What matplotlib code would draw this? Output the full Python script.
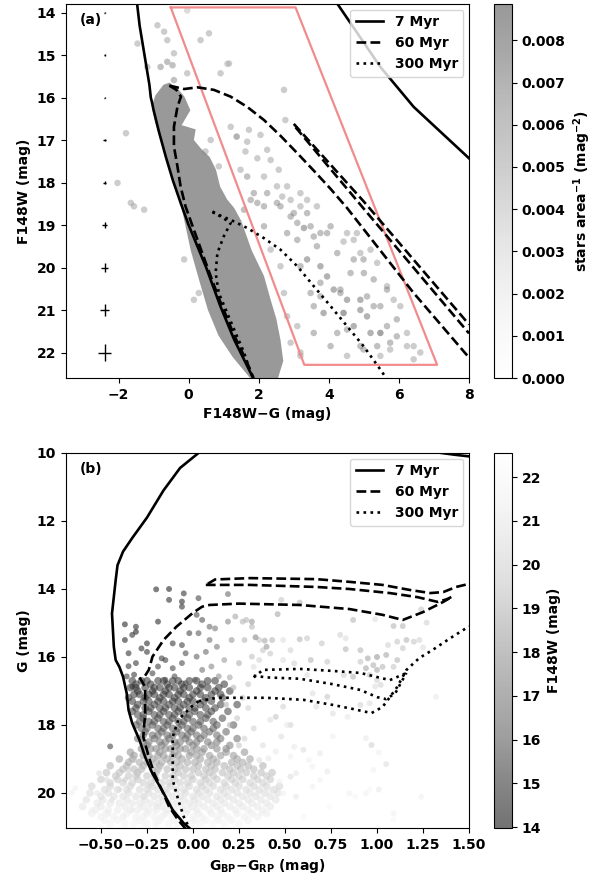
import numpy as np
import matplotlib.pyplot as plt
from matplotlib.lines import Line2D

plt.rcParams['font.family'] = 'DejaVu Sans'
plt.rcParams['font.weight'] = 'bold'
plt.rcParams['axes.labelweight'] = 'bold'
plt.rcParams['font.size'] = 10

# ---------------- panel (a) data ----------------
# isochrones in F148W-G vs F148W
iso7_a_x = [-1.47, -1.4, -1.3, -1.2, -1.12, -1.08, -1.05, -1.0, -0.85, -0.65, -0.45, -0.22, 0.0, 0.3, 0.5, 0.9, 1.3, 1.6, 1.84]
iso7_a_y = [13.8, 14.3, 14.8, 15.3, 15.7, 16.0, 16.1, 16.3, 16.8, 17.4, 17.95, 18.5, 19.0, 19.6, 20.0, 20.9, 21.7, 22.2, 22.6]
iso7b_a_x = [4.24, 5.47, 6.42, 8.0]
iso7b_a_y = [13.79, 15.28, 16.22, 17.43]

iso60_ms_a_x = [-0.55, -0.35, -0.22, -0.32, -0.42, -0.42, -0.32, -0.23, -0.09, 0.1, 0.45, 0.85, 1.3, 1.65, 1.85]
iso60_ms_a_y = [15.72, 15.82, 15.98, 16.22, 16.69, 17.15, 17.62, 18.09, 18.56, 19.0, 19.8, 20.7, 21.6, 22.2, 22.6]
iso60_gb_a_x = [-0.55, -0.13, 0.25, 0.72, 1.2, 1.67, 2.15, 2.62, 3.1, 3.57, 4.05, 4.52, 5.47, 6.42, 7.2, 8.0]
iso60_gb_a_y = [15.72, 15.8, 15.76, 15.82, 15.98, 16.22, 16.53, 16.9, 17.31, 17.72, 18.15, 18.6, 19.6, 20.6, 21.35, 22.12]
iso60_p1_a_x = [3.0, 5.0, 8.0]
iso60_p1_a_y = [16.62, 18.45, 21.34]
iso60_p2_a_x = [3.05, 5.0, 8.0]
iso60_p2_a_y = [16.7, 18.62, 21.55]

iso300_ms_a_x = [0.68, 1.2, 1.0, 0.82, 0.77, 0.86, 1.1, 1.34, 1.58, 1.77, 1.85]
iso300_ms_a_y = [18.68, 18.95, 19.27, 19.66, 20.13, 20.6, 21.07, 21.54, 22.0, 22.47, 22.62]
iso300_gb_a_x = [0.68, 1.2, 1.67, 2.15, 2.62, 3.1, 3.57, 4.05, 4.52, 4.99, 5.47, 5.65]
iso300_gb_a_y = [18.7, 18.88, 19.07, 19.31, 19.58, 19.97, 20.44, 20.91, 21.38, 21.85, 22.4, 22.62]

# selection box
box_x = [-0.51, 3.05, 7.09, 3.3, -0.51]
box_y = [13.88, 13.88, 22.29, 22.29, 13.88]

# typical photometric errors
err_y = [14, 15, 16, 17, 18, 19, 20, 21, 22]
err_col = [0.01, 0.015, 0.02, 0.03, 0.04, 0.07, 0.1, 0.14, 0.19]
err_mag = [0.01, 0.015, 0.02, 0.03, 0.04, 0.07, 0.1, 0.14, 0.2]

# saturated dense part of the main sequence (outline)
band_x = [-0.72, -0.95, -1.05, -0.95, -0.72, -0.56, -0.37, -0.2, 0.06, 0.3, 0.55, 0.85, 1.25, 1.6, 1.75,
          2.55, 2.7, 2.62, 2.5, 2.34, 2.15, 1.8, 1.5, 1.3, 1.1, 0.9, 0.78, 0.6, 0.35, 0.15, 0.2, -0.2, 0.05, -0.12, -0.3, -0.55]
band_y = [15.7, 15.95, 16.2, 16.6, 17.15, 17.62, 18.09, 18.6, 19.6, 20.3, 21.0, 21.6, 22.1, 22.45, 22.6,
          22.6, 22.2, 21.7, 21.2, 20.76, 20.2, 19.6, 18.9, 18.6, 18.4, 18.1, 17.7, 17.4, 17.2, 17.0, 16.75, 16.65, 16.3, 15.98, 15.8, 15.65]

# sparse stars: colour, magnitude, local density
a_x = [-0.04, -0.89, -0.7, -0.61, -1.46, 0.34, 0.58, -0.42, -0.61, -0.8, -1.18, -0.04, -0.42, -0.46, 1.15, 0.91, 1.1,
       2.72, 2.76, 2.05, 1.67, 1.37, 1.72, 1.2, 0.63, 0.48, 0.86, 1.62, 1.96, 2.24, 2.34, 2.57, 1.48, 1.67, 2.15,
       1.86, 2.24, 2.52, 2.81, 2.91, 2.52, 2.15, 1.77, 3.19, 3.19, 3.38, 3.66, 3.0, 2.67, 1.58, -1.65, -1.27, -1.79,
       -2.03, -1.56, 1.96, 2.62, 2.91, 3.1, 2.81, 3.1, 3.29, 3.57, 3.95, 4.42, 3.66, 3.38, 3.76, 3.95, 4.14, 3.76,
       3.57, 3.85, 4.33, 4.52, 4.42, 4.9, 4.9, 5.09, 5.28, 5.09, 5.47, 5.66, 5.94, 5.19, 4.71, 4.52, 4.24, 4.9,
       5.38, 5.75, 6.23, 6.42, 5.47, 4.71, 5.0, 5.28, 5.66, 5.38, 5.85, 6.04, 4.9, 5.19, 4.71, 2.15, 2.34, 2.62,
       2.72, 2.81, 3.1, 2.91, 3.19, -0.13, 0.15, 0.29, 3.38, 3.48, 3.76, 4.05, 4.52, 4.8, 4.24, 4.62, 4.99, 5.66,
       4.33, 5.47, 5.94, 6.23, 6.42, 5.75, 4.99, 4.52, 4.05, 3.57, 3.19, 6.61, 3.76, 3.48, 3.19]
a_y = [13.95, 14.3, 14.45, 14.65, 14.73, 14.65, 14.49, 14.96, 15.16, 15.28, 15.28, 15.43, 15.59, 15.24, 15.2, 15.43, 15.21,
       15.82, 16.53, 16.88, 17.04, 16.92, 16.76, 16.69, 17.0, 17.27, 17.62, 17.27, 17.43, 17.23, 17.47, 17.7, 17.7, 17.86, 17.86,
       18.25, 18.25, 18.09, 18.09, 18.41, 18.48, 18.56, 18.41, 18.25, 18.56, 18.41, 18.56, 18.72, 18.33, 18.64, 18.48, 18.64, 16.84,
       18.01, 18.56, 18.48, 18.56, 18.8, 18.95, 19.19, 19.35, 19.07, 19.27, 19.19, 19.39, 19.5, 19.81, 19.97, 20.21, 20.52, 20.68,
       20.91, 21.07, 20.52, 20.76, 21.07, 20.76, 21.0, 20.68, 20.91, 21.15, 21.54, 21.38, 21.62, 21.54, 21.38, 21.46, 21.54, 21.85,
       21.85, 21.93, 21.85, 22.16, 22.08, 19.81, 20.13, 20.28, 20.44, 19.89, 20.76, 20.91, 19.66, 19.58, 19.35, 19.03, 19.58, 19.97,
       20.6, 21.15, 21.38, 21.77, 22.08, 19.81, 20.76, 20.6, 18.72, 19.03, 19.19, 19.03, 19.19, 19.19, 19.66, 20.13, 19.81, 20.52,
       20.6, 20.91, 21.22, 21.54, 21.85, 21.77, 21.93, 22.08, 21.85, 21.54, 22.0, 22.0, 20.36, 20.6, 19.97]
a_d = [0.004, 0.005, 0.005, 0.005, 0.005, 0.005, 0.005, 0.005, 0.006, 0.006, 0.005, 0.005, 0.006, 0.006, 0.005, 0.005, 0.004,
       0.005, 0.005, 0.005, 0.005, 0.007, 0.005, 0.005, 0.005, 0.005, 0.005, 0.005, 0.005, 0.005, 0.005, 0.005, 0.005, 0.006, 0.005,
       0.006, 0.006, 0.005, 0.005, 0.005, 0.006, 0.006, 0.006, 0.005, 0.005, 0.005, 0.005, 0.006, 0.005, 0.006, 0.005, 0.005, 0.005,
       0.005, 0.005, 0.006, 0.006, 0.006, 0.006, 0.006, 0.006, 0.007, 0.006, 0.006, 0.005, 0.006, 0.007, 0.007, 0.007, 0.007, 0.006,
       0.006, 0.007, 0.006, 0.007, 0.008, 0.007, 0.007, 0.006, 0.006, 0.007, 0.008, 0.006, 0.006, 0.007, 0.007, 0.006, 0.006, 0.006,
       0.006, 0.005, 0.005, 0.005, 0.005, 0.006, 0.006, 0.006, 0.005, 0.005, 0.005, 0.005, 0.005, 0.005, 0.005, 0.006, 0.005, 0.005,
       0.005, 0.005, 0.005, 0.005, 0.005, 0.005, 0.005, 0.005, 0.006, 0.006, 0.006, 0.006, 0.005, 0.005, 0.006, 0.006, 0.006, 0.006,
       0.006, 0.006, 0.006, 0.005, 0.005, 0.006, 0.006, 0.005, 0.006, 0.006, 0.005, 0.005, 0.006, 0.006, 0.006]

# ---------------- panel (b) data ----------------
iso7_b_x = [0.03, -0.07, -0.16, -0.25, -0.33, -0.38, -0.41, -0.42, -0.43, -0.44, -0.43, -0.42, -0.40, -0.38, -0.36,
            -0.35, -0.33, -0.29, -0.26, -0.22, -0.16, -0.11, -0.05, -0.02]
iso7_b_y = [10.0, 10.44, 11.1, 11.9, 12.5, 12.9, 13.3, 13.74, 14.23, 14.72, 15.7, 16.09, 16.29, 16.58, 17.07,
            17.56, 17.95, 18.45, 18.94, 19.43, 20.0, 20.5, 20.89, 21.03]
iso7b_b_x = [1.35, 1.42, 1.5]
iso7b_b_y = [10.0, 10.05, 10.1]

iso60_ms_b_x = [-0.29, -0.26, -0.26, -0.27, -0.24, -0.21, -0.17, -0.13, -0.08, -0.04]
iso60_ms_b_y = [16.6, 16.88, 17.66, 18.35, 18.94, 19.43, 19.9, 20.4, 20.8, 21.05]
iso60_lo_b_x = [-0.26, -0.24, -0.22, -0.16, -0.09, 0.0, 0.05, 0.09, 0.25, 0.58, 0.85, 1.03, 1.14, 1.25, 1.36, 1.41]
iso60_lo_b_y = [16.55, 16.38, 15.99, 15.5, 15.11, 14.7, 14.52, 14.47, 14.43, 14.47, 14.59, 14.76, 14.91, 14.68, 14.38, 14.22]
iso60_top_b_x = [0.08, 0.12, 0.31, 0.67, 0.85, 1.03, 1.18, 1.29, 1.36, 1.43, 1.5]
iso60_top_b_y = [13.85, 13.72, 13.68, 13.71, 13.79, 13.88, 14.03, 14.12, 14.09, 13.94, 13.85]
iso60_mid_b_x = [0.07, 0.31, 0.67, 0.85, 1.07, 1.22, 1.33, 1.38, 1.41]
iso60_mid_b_y = [13.88, 13.88, 13.94, 14.0, 14.12, 14.24, 14.38, 14.3, 14.22]

iso300_ms_b_x = [0.03, -0.01, -0.08, -0.11, -0.11, -0.11, -0.08, -0.05, -0.02]
iso300_ms_b_y = [17.3, 17.47, 17.85, 18.35, 19.03, 19.62, 20.2, 20.7, 21.03]
iso300_lo_b_x = [0.03, 0.13, 0.4, 0.6, 0.76, 0.87, 0.97, 1.03, 1.07, 1.11, 1.16, 1.23, 1.3, 1.4, 1.5]
iso300_lo_b_y = [17.3, 17.2, 17.2, 17.26, 17.41, 17.53, 17.65, 17.47, 17.18, 16.88, 16.38, 16.03, 15.8, 15.44, 15.1]
iso300_mid_b_x = [0.33, 0.4, 0.58, 0.76, 0.91, 1.0, 1.05, 1.1, 1.13, 1.16]
iso300_mid_b_y = [16.55, 16.6, 16.64, 16.8, 16.97, 17.18, 17.24, 17.06, 16.76, 16.47]
iso300_top_b_x = [0.33, 0.38, 0.58, 0.76, 0.91, 1.0, 1.07, 1.16]
iso300_top_b_y = [16.6, 16.38, 16.35, 16.41, 16.47, 16.59, 16.68, 16.47]

# individual stars: BP-RP, G, F148W
b_x = [-0.20, -0.13, -0.13, -0.05, -0.06, -0.06, 0.03, 0.19, -0.37, -0.31, -0.31, -0.33, -0.37, -0.35, -0.28, -0.25,
       -0.25, -0.19, -0.17, -0.15, -0.31, -0.35, -0.36, -0.32, -0.33, -0.11, -0.06, -0.04, -0.02, 0.03, 0.05, 0.02,
       0.09, 0.12, 0.13, 0.19, 0.23, 0.27, 0.29, 0.32, 0.21, 0.09, 0.07, 0.02, -0.06, -0.11, -0.19, -0.22, -0.15,
       -0.1, -0.04, 0.01, 0.05, 0.1, 0.14, 0.17, 0.25, 0.32, 0.38, 0.28, 0.36, -0.45,
       -0.51, -0.47, -0.64, -0.66, -0.58, -0.6, -0.55, -0.52, -0.44, -0.40, -0.37, -0.35, -0.32, -0.3, -0.46, -0.38,
       -0.33, -0.27, -0.24, -0.2, -0.2, -0.27,
       0.48, 0.58, 0.46, 0.87, 0.99, 1.09, 1.14, 1.24, 1.27, 0.32, 0.34, 0.39, 0.43, 0.4, 0.49, 0.53, 0.58, 0.62,
       0.7, 0.8, 0.83, 0.83, 0.91, 0.95, 1.0, 1.05, 1.06, 1.11, 1.16, 1.2, 1.23, 1.25, 1.14, 1.11, 1.09, 0.94,
       0.98, 1.0, 1.03, 0.96, 1.0, 0.99, 1.02, 0.91, 0.87, 0.82, 0.73, 0.64, 0.55, 0.49, 0.42, 0.36, 0.33, 0.62,
       0.65, 0.73, 0.76, 0.84, 0.91, 0.96, 0.67, 0.49, 0.45, 0.42, 0.53, 0.51, 0.48, 0.55, 0.45, 0.6, 0.53, 0.41,
       0.36, 0.63, 0.69, 0.65, 0.73, 0.76, 0.94, 0.97, 1.01, 1.05, 0.98, 0.56, 0.53, 0.47, 0.42, 0.49, 0.56, 0.65,
       0.69, 0.74, 0.85, 0.88, 0.94, 0.96, 1.01, 1.09, 1.09, 1.24, 1.32, 0.6, 0.37, 0.42, 0.35,
       0.22, 0.27, 0.3, 0.24, 0.33, 0.28, 0.38, 0.2, 0.3, 0.18, 0.2, 0.25]
b_g = [14.01, 14.0, 14.32, 14.13, 14.37, 14.52, 14.27, 14.15, 15.04, 15.11, 15.26, 15.35, 15.5, 15.89, 15.75, 15.85,
       15.6, 14.96, 16.04, 16.09, 16.18, 16.27, 16.57, 16.52, 16.87, 15.6, 15.65, 15.89, 15.3, 15.3, 14.91, 14.76,
       15.11, 15.16, 15.7, 14.96, 14.81, 14.96, 14.91, 15.11, 15.5, 15.5, 15.85, 15.99, 16.18, 16.33, 16.28, 16.48, 16.67,
       16.57, 16.77, 16.67, 16.38, 16.28, 16.57, 16.09, 16.18, 15.99, 15.8, 15.5, 15.5, 18.63,
       19.42, 19.61, 19.86, 20.0, 20.2, 20.4, 20.5, 20.0, 20.2, 19.9, 19.61, 19.32, 19.03, 19.42, 20.6, 20.7,
       20.5, 20.1, 19.8, 20.4, 20.9, 20.9,
       14.32, 14.4, 14.74, 14.91, 14.89, 15.09, 15.09, 14.6, 14.99, 14.96, 15.42, 15.52, 15.5, 15.7, 15.5, 15.8, 15.48, 15.45,
       15.6, 15.35, 15.45, 15.77, 15.8, 16.04, 16.0, 15.94, 15.65, 15.55, 15.5, 15.55, 15.5, 15.72, 15.74, 16.09, 16.29, 16.33,
       16.24, 16.38, 16.29, 16.53, 16.68, 16.87, 16.82, 16.14, 16.58, 16.53, 16.14, 16.09, 16.19, 16.09, 15.9, 16.09, 16.29, 16.53,
       17.07, 17.17, 17.66, 17.76, 17.41, 17.36, 17.46, 17.46, 17.76, 17.85, 18.0, 18.0, 18.34, 18.64, 18.78, 18.73, 18.93, 18.98,
       19.03, 19.03, 18.83, 19.22, 19.37, 18.34, 18.39, 18.59, 18.81, 19.15, 19.32, 19.42, 19.52, 19.67, 19.91, 20.01, 20.11, 19.81,
       19.62, 20.4, 20.01, 20.11, 20.01, 19.9, 19.9, 20.6, 20.79, 20.11, 17.17, 20.7, 20.6, 20.4, 20.01,
       16.9, 17.2, 17.5, 17.8, 18.1, 18.4, 18.6, 16.6, 16.8, 17.4, 18.0, 18.6]
b_f = [14.6, 14.5, 14.8, 15.0, 14.8, 15.0, 15.5, 16.5, 14.6, 14.8, 14.5, 14.9, 14.7, 15.0, 14.9, 15.0,
       14.8, 14.7, 15.2, 15.3, 15.1, 15.2, 15.3, 15.2, 15.4, 15.2, 15.4, 15.6, 15.5, 16.0, 15.8, 15.6,
       16.5, 17.0, 17.0, 17.5, 18.5, 19.0, 19.0, 19.0, 18.0, 16.8, 16.5, 16.2, 15.6, 15.5, 15.4, 15.4, 15.5,
       15.6, 15.8, 16.2, 16.8, 17.5, 17.8, 18.2, 18.8, 19.3, 19.5, 19.0, 19.5, 15.5,
       20.5, 20.5, 21.5, 21.5, 21.3, 21.5, 21.5, 21.0, 20.8, 20.5, 20.0, 19.8, 19.5, 19.8, 21.5, 21.5,
       21.2, 20.8, 20.3, 21.0, 21.8, 21.8,
       19.5, 19.0, 18.5, 19.0, 20.5, 19.0, 19.0, 19.5, 20.0, 18.0, 17.5, 18.5, 19.0, 18.0, 20.5, 20.0, 19.0, 19.5,
       19.5, 20.0, 20.5, 19.0, 19.0, 18.5, 18.0, 18.5, 20.0, 19.5, 19.0, 19.5, 20.0, 20.5, 19.5, 19.0, 19.5, 18.5,
       18.8, 18.5, 19.0, 19.5, 20.0, 20.5, 20.0, 19.5, 19.0, 20.0, 19.5, 19.0, 20.0, 20.5, 19.5, 20.0, 20.5, 20.5,
       20.5, 19.5, 20.5, 21.0, 20.0, 20.5, 20.5, 20.0, 19.5, 20.5, 20.0, 21.0, 20.5, 21.0, 21.0, 20.5, 21.5, 21.0,
       20.5, 21.5, 21.0, 21.5, 21.0, 21.5, 21.0, 20.0, 21.5, 20.5, 21.5, 21.0, 20.5, 21.5, 21.0, 21.5, 21.0, 21.5,
       21.5, 22.0, 21.5, 22.0, 21.5, 22.0, 21.0, 21.5, 22.0, 21.5, 21.0, 21.8, 21.5, 21.5, 21.0,
       19.0, 19.5, 20.0, 19.5, 20.0, 20.0, 20.5, 18.5, 19.5, 19.0, 19.0, 19.5]

# crowded main sequence, row by row: G, F148W, BP-RP positions
cloud_g = [16.7, 16.8, 16.9, 17.0, 17.1, 17.2, 17.3, 17.4, 17.5, 17.6, 17.7, 17.8, 17.9, 18.0, 18.1, 18.2,
           18.3, 18.4, 18.5, 18.6, 18.7, 18.8, 18.9, 19.0, 19.1, 19.2, 19.3, 19.4, 19.5, 19.6, 19.7, 19.8,
           19.9, 20.0, 20.1, 20.2, 20.3, 20.4, 20.5, 20.6, 20.7, 20.8, 20.9]
cloud_f = [15.3, 15.3, 15.3, 15.35, 15.4, 15.45, 15.5, 15.55, 15.6, 15.7, 15.8, 15.9, 16.0, 16.1, 16.3, 16.5,
           16.7, 16.9, 17.2, 17.4, 17.7, 18.0, 18.2, 18.4, 18.7, 18.9, 19.1, 19.3, 19.5, 19.7, 19.9, 20.1,
           20.3, 20.4, 20.6, 20.8, 20.9, 21.0, 21.2, 21.3, 21.5, 21.6, 21.8]
cloud_x = [
    [-0.33, -0.28, -0.25, -0.19, -0.16, -0.11, -0.08, -0.02, 0.02, 0.08, 0.12],
    [-0.31, -0.23, -0.14, -0.06, 0.05, 0.17],
    [-0.34, -0.31, -0.26, -0.21, -0.18, -0.13, -0.1, -0.05, -0.02, 0.04, 0.08, 0.14],
    [-0.3, -0.22, -0.15, -0.07, 0.02, 0.12, 0.2],
    [-0.32, -0.29, -0.24, -0.21, -0.16, -0.13, -0.08, -0.05, 0.0, 0.04, 0.1, 0.15],
    [-0.35, -0.26, -0.18, -0.1, -0.02, 0.07, 0.16],
    [-0.33, -0.27, -0.24, -0.19, -0.16, -0.11, -0.08, -0.03, 0.0, 0.06, 0.1],
    [-0.3, -0.21, -0.13, -0.05, 0.04, 0.15, 0.24],
    [-0.31, -0.26, -0.23, -0.18, -0.15, -0.1, -0.07, -0.02, 0.01, 0.07, 0.12],
    [-0.33, -0.24, -0.16, -0.08, 0.01, 0.1, 0.19],
    [-0.3, -0.27, -0.21, -0.18, -0.13, -0.1, -0.05, -0.02, 0.04, 0.08],
    [-0.27, -0.19, -0.11, -0.03, 0.07, 0.16],
    [-0.29, -0.24, -0.21, -0.16, -0.13, -0.08, -0.05, 0.0, 0.04, 0.11],
    [-0.31, -0.22, -0.14, -0.06, 0.03, 0.13, 0.22],
    [-0.28, -0.25, -0.19, -0.16, -0.11, -0.08, -0.03, 0.0, 0.06, 0.11],
    [-0.26, -0.17, -0.09, -0.01, 0.09, 0.18],
    [-0.27, -0.22, -0.19, -0.14, -0.11, -0.06, -0.03, 0.02, 0.06, 0.13],
    [-0.3, -0.21, -0.13, -0.04, 0.04, 0.15, 0.24],
    [-0.27, -0.24, -0.18, -0.15, -0.1, -0.07, -0.02, 0.02, 0.08, 0.13],
    [-0.25, -0.17, -0.09, 0.0, 0.1, 0.2],
    [-0.28, -0.23, -0.2, -0.15, -0.12, -0.07, -0.04, 0.02, 0.06, 0.13, 0.18],
    [-0.34, -0.26, -0.18, -0.1, -0.01, 0.05, 0.18, 0.28],
    [-0.32, -0.27, -0.24, -0.19, -0.16, -0.11, -0.08, -0.02, 0.02, 0.09, 0.15, 0.22],
    [-0.4, -0.33, -0.22, -0.14, -0.06, 0.04, 0.11, 0.24, 0.31],
    [-0.35, -0.29, -0.25, -0.2, -0.17, -0.12, -0.09, -0.03, 0.01, 0.08, 0.13, 0.21, 0.27],
    [-0.45, -0.36, -0.27, -0.18, -0.07, 0.03, 0.1, 0.17, 0.24, 0.3, 0.38],
    [-0.38, -0.32, -0.28, -0.22, -0.19, -0.14, -0.1, -0.04, 0.0, 0.07, 0.12, 0.2, 0.26, 0.33],
    [-0.47, -0.4, -0.3, -0.2, -0.08, 0.03, 0.09, 0.16, 0.22, 0.29, 0.37, 0.43],
    [-0.42, -0.35, -0.31, -0.25, -0.21, -0.15, -0.11, -0.05, -0.01, 0.06, 0.11, 0.19, 0.25, 0.33, 0.4],
    [-0.5, -0.41, -0.3, -0.2, -0.1, 0.0, 0.07, 0.13, 0.21, 0.27, 0.35, 0.42],
    [-0.45, -0.38, -0.33, -0.27, -0.23, -0.17, -0.13, -0.07, -0.03, 0.04, 0.09, 0.17, 0.23, 0.31, 0.38],
    [-0.55, -0.45, -0.34, -0.22, -0.12, -0.02, 0.05, 0.11, 0.18, 0.25, 0.33, 0.4, 0.47],
    [-0.48, -0.41, -0.36, -0.29, -0.25, -0.19, -0.15, -0.09, -0.05, 0.02, 0.07, 0.15, 0.21, 0.29, 0.36, 0.44],
    [-0.56, -0.46, -0.35, -0.24, -0.14, -0.04, 0.03, 0.09, 0.17, 0.24, 0.31, 0.39, 0.46],
    [-0.5, -0.43, -0.38, -0.31, -0.27, -0.21, -0.17, -0.11, -0.07, 0.0, 0.05, 0.13, 0.19, 0.27, 0.34, 0.42],
    [-0.58, -0.49, -0.36, -0.26, -0.16, -0.05, 0.01, 0.08, 0.15, 0.22, 0.3, 0.37, 0.45],
    [-0.52, -0.45, -0.4, -0.33, -0.29, -0.23, -0.19, -0.13, -0.09, -0.02, 0.03, 0.11, 0.17, 0.25, 0.32, 0.4],
    [-0.6, -0.5, -0.37, -0.27, -0.17, -0.06, 0.0, 0.06, 0.13, 0.2, 0.27, 0.35, 0.42],
    [-0.53, -0.46, -0.41, -0.34, -0.3, -0.24, -0.2, -0.14, -0.1, -0.03, 0.02, 0.09, 0.15, 0.23, 0.3, 0.38],
    [-0.55, -0.47, -0.36, -0.25, -0.15, -0.04, 0.03, 0.1, 0.16, 0.24, 0.32, 0.4],
    [-0.5, -0.43, -0.38, -0.31, -0.27, -0.21, -0.17, -0.11, -0.07, 0.0, 0.05, 0.13, 0.19, 0.28, 0.35],
    [-0.48, -0.41, -0.29, -0.18, -0.1, 0.01, 0.07, 0.14, 0.21, 0.3],
    [-0.45, -0.37, -0.32, -0.25, -0.2, -0.13, -0.08, -0.01, 0.04, 0.11, 0.17, 0.25],
]

legend_labels = ['7 Myr', '60 Myr', '300 Myr']


def bold_ticks(ax):
    for lab in ax.get_xticklabels() + ax.get_yticklabels():
        lab.set_fontweight('bold')


# ---------------- figure ----------------
fig = plt.figure(figsize=(6.01, 8.75), dpi=100)
ax1 = fig.add_axes([0.1098, 0.568, 0.6706, 0.4274])
cax1 = fig.add_axes([0.822, 0.568, 0.030, 0.4274])
ax2 = fig.add_axes([0.1098, 0.0537, 0.6706, 0.4286])
cax2 = fig.add_axes([0.822, 0.0537, 0.030, 0.4286])

# panel (a)
dmax = 0.00886
cm_a = plt.get_cmap('Greys')
ax1.fill(band_x, band_y, color=cm_a(1.0), alpha=0.4, lw=0, zorder=1)
sc1 = ax1.scatter(a_x, a_y, c=a_d, cmap='Greys', vmin=0, vmax=dmax, s=22, alpha=0.4,
                  edgecolors='none', zorder=1)
ax1.plot(box_x, box_y, color='#f28b8b', lw=1.6, zorder=2)
ax1.errorbar([-2.4] * len(err_y), err_y, xerr=err_col, yerr=err_mag, fmt='none', ecolor='k',
             elinewidth=1.0, zorder=3)
lw = 1.9
ax1.plot(iso7_a_x, iso7_a_y, 'k-', lw=lw, zorder=4)
ax1.plot(iso7b_a_x, iso7b_a_y, 'k-', lw=lw, zorder=4)
ax1.plot(iso60_ms_a_x, iso60_ms_a_y, 'k--', lw=lw, zorder=4)
ax1.plot(iso60_gb_a_x, iso60_gb_a_y, 'k--', lw=lw, zorder=4)
ax1.plot(iso60_p1_a_x, iso60_p1_a_y, 'k--', lw=lw, zorder=4)
ax1.plot(iso60_p2_a_x, iso60_p2_a_y, 'k--', lw=lw, zorder=4)
ax1.plot(iso300_ms_a_x, iso300_ms_a_y, 'k:', lw=lw, zorder=4)
ax1.plot(iso300_gb_a_x, iso300_gb_a_y, 'k:', lw=lw, zorder=4)
ax1.set_xlim(-3.5, 8)
ax1.set_ylim(22.6, 13.8)
ax1.set_xticks([-2, 0, 2, 4, 6, 8])
ax1.set_yticks(range(14, 23))
ax1.set_xlabel('F148W\u2212G (mag)')
ax1.set_ylabel('F148W (mag)')
ax1.text(0.035, 0.975, '(a)', transform=ax1.transAxes, ha='left', va='top', fontsize=10)
bold_ticks(ax1)

handles = [Line2D([], [], color='k', ls='-', lw=lw),
           Line2D([], [], color='k', ls='--', lw=lw),
           Line2D([], [], color='k', ls=':', lw=lw)]
ax1.legend(handles, legend_labels, loc='upper right', fontsize=10, borderaxespad=0.4)

cb1 = fig.colorbar(sc1, cax=cax1)
cb1.set_ticks(np.arange(0, 0.0085, 0.001))
cb1.ax.set_yticklabels(['%.3f' % t for t in np.arange(0, 0.0085, 0.001)])
cb1.set_label('stars area$^{\\mathbf{-1}}$ (mag$^{\\mathbf{-2}}$)')
bold_ticks(cb1.ax)

# panel (b)
cx = []
cg = []
cf = []
for g, f, row in zip(cloud_g, cloud_f, cloud_x):
    for x in row:
        cx.append(x)
        cg.append(g)
        cf.append(f)
fmin, fmax = 13.98, 22.55
ax2.scatter(cx, cg, c=cf, cmap='Greys_r', vmin=fmin, vmax=fmax, s=30, alpha=0.55,
            edgecolors='none', zorder=1)
sc2 = ax2.scatter(b_x, b_g, c=b_f, cmap='Greys_r', vmin=fmin, vmax=fmax, s=18, alpha=0.55,
                  edgecolors='none', zorder=1)
ax2.plot(iso7_b_x, iso7_b_y, 'k-', lw=lw, zorder=4)
ax2.plot(iso7b_b_x, iso7b_b_y, 'k-', lw=lw, zorder=4)
ax2.plot(iso60_ms_b_x, iso60_ms_b_y, 'k--', lw=lw, zorder=4)
ax2.plot(iso60_lo_b_x, iso60_lo_b_y, 'k--', lw=lw, zorder=4)
ax2.plot(iso60_top_b_x, iso60_top_b_y, 'k--', lw=lw, zorder=4)
ax2.plot(iso60_mid_b_x, iso60_mid_b_y, 'k--', lw=lw, zorder=4)
ax2.plot(iso300_ms_b_x, iso300_ms_b_y, 'k:', lw=lw, zorder=4)
ax2.plot(iso300_lo_b_x, iso300_lo_b_y, 'k:', lw=lw, zorder=4)
ax2.plot(iso300_mid_b_x, iso300_mid_b_y, 'k:', lw=lw, zorder=4)
ax2.plot(iso300_top_b_x, iso300_top_b_y, 'k:', lw=lw, zorder=4)
ax2.set_xlim(-0.69, 1.5)
ax2.set_ylim(21.03, 10)
ax2.set_xticks([-0.5, -0.25, 0, 0.25, 0.5, 0.75, 1.0, 1.25, 1.5])
ax2.set_yticks([10, 12, 14, 16, 18, 20])
ax2.set_xlabel('G$_{\\mathbf{BP}}$\u2212G$_{\\mathbf{RP}}$ (mag)')
ax2.set_ylabel('G (mag)')
ax2.text(0.035, 0.975, '(b)', transform=ax2.transAxes, ha='left', va='top', fontsize=10)
ax2.legend(handles, legend_labels, loc='upper right', fontsize=10, borderaxespad=0.4)
bold_ticks(ax2)

cb2 = fig.colorbar(sc2, cax=cax2)
cb2.set_ticks(range(14, 23))
cb2.set_label('F148W (mag)')
bold_ticks(cb2.ax)

plt.savefig('out.png', dpi=100)
